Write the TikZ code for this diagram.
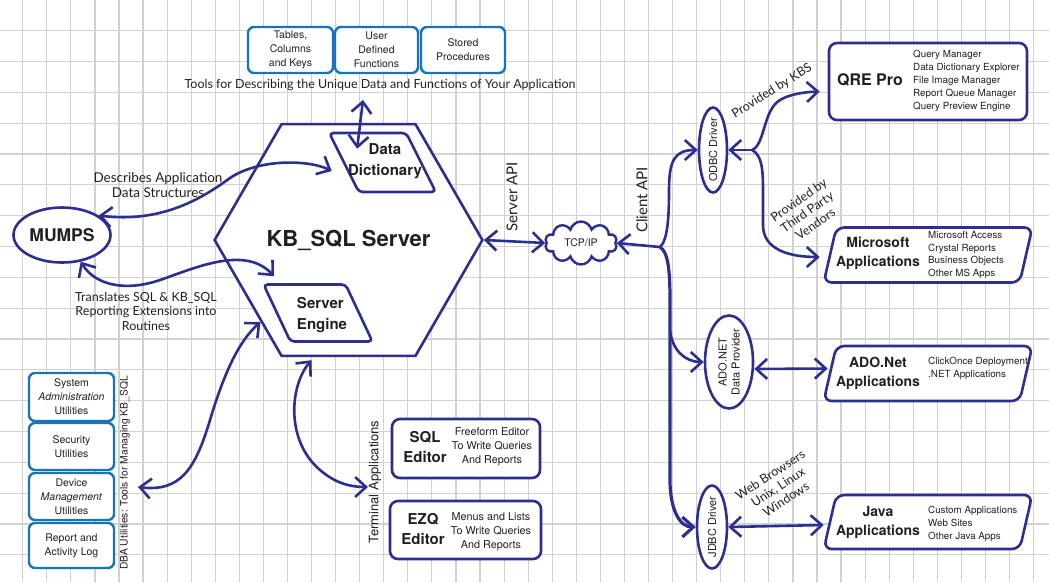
\documentclass[tikz,border=0pt]{standalone}
\usepackage{fontspec}
\setmainfont{TeX Gyre Heros}
\newfontfamily\handfont{Lato}
\usetikzlibrary{shapes.geometric, shapes.symbols, arrows.meta}

\definecolor{kbnavy}{RGB}{44,47,143}
\definecolor{kbblue}{RGB}{24,116,186}
\definecolor{kbtext}{RGB}{35,31,32}

\begin{document}
\begin{tikzpicture}[x = 1pt, y = -1pt, > = {Straight Barb[length = 11pt, width = 20pt]},
	gridline/.style = {line width = 1.2pt, black!18},
	link/.style = {draw = kbnavy, line width = 2.6pt, line cap = round, line join = round},
	bluebox/.style = {draw = kbblue, fill = white, line width = 2.4pt, rounded corners = 6pt, align = center, text = kbtext, inner sep = 0pt, font = \fontsize{10.5}{14}\selectfont},
	navybox/.style = {draw = kbnavy, fill = white, line width = 2.6pt, rounded corners = 8pt, inner sep = 0pt, text = kbtext},
	slantbox/.style = {navybox, xslant = 0.23, transform shape, minimum width = 196pt, minimum height = 55pt},
	shelfbox/.style = {navybox, rounded corners = 4pt, transform shape},
	drivernode/.style = {draw = kbnavy, fill = white, line width = 2.6pt, ellipse, inner sep = 0pt, text = kbtext},
	heading/.style = {text = kbtext, align = center, inner sep = 0pt, font = \bfseries\fontsize{14}{19}\selectfont},
	listtext/.style = {text = kbtext, align = left, anchor = west, inner sep = 0pt, font = \fontsize{9.8}{13}\selectfont},
	remarktext/.style = {text = kbtext, align = center, inner sep = 0pt, font = \handfont\fontsize{12.5}{14.5}\selectfont}
]

	\useasboundingbox (0, 0) rectangle (1049, 582);

	% Grid paper

	\foreach \i in {0, ..., 42}
		\draw [gridline] ({22.7 + 24.07 * \i}, 0) -- ({22.7 + 24.07 * \i}, 582);
	\foreach \j in {0, ..., 17}
		\draw [gridline] (0, {30.7 + 30.83 * \j}) -- (1049, {30.7 + 30.83 * \j});

	% Data description tools

	\node [bluebox, minimum width = 85pt, minimum height = 46pt] (tables) at (290.5, 50) {Tables,\\Columns\\and Keys};
	\node [bluebox, minimum width = 83pt, minimum height = 46pt] (udf) at (376.5, 50) {User\\Defined\\Functions};
	\node [bluebox, minimum width = 84pt, minimum height = 46pt] (stored) at (463, 50) {Stored\\Procedures};
	\node [remarktext] (tools) at (380, 85) {Tools for Describing the Unique Data and Functions of Your Application};

	% Server

	\node [draw = kbnavy, fill = white, line width = 2.6pt, regular polygon, regular polygon sides = 6, minimum size = 263pt, inner sep = 0pt, text = kbtext, font = \bfseries\fontsize{22}{22}\selectfont] (server) at (348.5, 240) {KB\_SQL Server};
	\node [shelfbox, xslant = -0.5, minimum width = 77pt, minimum height = 59pt] (dict) at (382.5, 162.5) {};
	\node [heading, font = \bfseries\fontsize{15}{21}\selectfont] (dictname) at (385, 161) {Data\\Dictionary};
	\node [shelfbox, xslant = -0.47, minimum width = 82pt, minimum height = 57pt] (engine) at (318, 313) {};
	\node [heading, align = left, font = \bfseries\fontsize{15}{21}\selectfont] (enginename) at (322, 315) {Server\\Engine};

	% MUMPS

	\node [drivernode, minimum width = 97pt, minimum height = 55pt, font = \bfseries\fontsize{17.5}{17.5}\selectfont] (mumps) at (62, 235) {MUMPS};
	\node [remarktext, font = \handfont\fontsize{13.5}{14.5}\selectfont] (describes) at (158, 185) {Describes Application\\Data Structures};
	\node [remarktext] (translates) at (146, 311) {Translates SQL \& KB\_SQL\\Reporting Extensions into\\Routines};

	% DBA utilities

	\node [bluebox, minimum width = 85pt, minimum height = 48pt] (sysadmin) at (71.5, 397) {System\\\textit{Administration}\\Utilities};
	\node [bluebox, minimum width = 85pt, minimum height = 47pt] (security) at (71.5, 446.5) {Security\\Utilities};
	\node [bluebox, minimum width = 85pt, minimum height = 47pt] (device) at (71.5, 496.5) {Device\\\textit{Management}\\Utilities};
	\node [bluebox, minimum width = 85pt, minimum height = 45pt] (report) at (71.5, 545.5) {Report and\\Activity Log};
	\node [rotate = 90, text = kbtext, inner sep = 0pt, font = \fontsize{10.3}{12}\selectfont] (dbalabel) at (125, 473) {DBA Utilities: Tools for Managing KB\_SQL};

	% Terminal applications

	\node [rotate = 90, text = kbtext, inner sep = 0pt, font = \fontsize{13}{14}\selectfont] (termlabel) at (375, 482) {Terminal Applications};
	\node [navybox, minimum width = 148pt, minimum height = 59pt] (sqlbox) at (466, 448.5) {};
	\node [heading, font = \bfseries\fontsize{15}{20}\selectfont] (sqlname) at (425, 447) {SQL\\Editor};
	\node [text = kbtext, align = center, inner sep = 0pt, font = \fontsize{10.8}{14}\selectfont] (sqllist) at (492, 447) {Freeform Editor\\To Write Queries\\And Reports};
	\node [navybox, minimum width = 151pt, minimum height = 58pt] (ezqbox) at (465.5, 530) {};
	\node [heading, font = \bfseries\fontsize{15}{20}\selectfont] (ezqname) at (423, 529) {EZQ\\Editor};
	\node [text = kbtext, align = center, inner sep = 0pt, font = \fontsize{10.8}{14}\selectfont] (ezqlist) at (491, 532) {Menus and Lists\\To Write Queries\\And Reports};

	% Network

	\node [cloud, cloud puffs = 10, aspect = 1.7, draw = kbnavy, fill = white, line width = 2.4pt, minimum width = 72pt, minimum height = 43pt, inner sep = 0pt, text = kbtext, font = \fontsize{10.5}{12}\selectfont] (tcp) at (581, 243) {TCP/IP};
	\node [remarktext, rotate = 90, font = \handfont\fontsize{15}{16}\selectfont] (serverapi) at (512, 197) {Server API};
	\node [remarktext, rotate = 90, font = \handfont\fontsize{15}{16}\selectfont] (clientapi) at (642, 200) {Client API};
	\coordinate (clientjoin) at (660, 247);
	\coordinate (adojoin) at (670, 330);

	% ODBC

	\node [drivernode, minimum width = 28pt, minimum height = 85pt] (odbc) at (713, 150) {};
	\node [rotate = 90, text = kbtext, inner sep = 0pt, font = \fontsize{11}{13}\selectfont] (odbcname) at (713, 150) {ODBC Driver};
	\coordinate (odbcjoin) at (752, 150);
	\node [remarktext, rotate = 32] (bykbs) at (772, 91) {Provided by KBS};
	\node [remarktext, rotate = 35] (bythird) at (807, 212) {Provided by\\Third Party\\Vendors};

	\node [navybox, minimum width = 198pt, minimum height = 77pt] (qre) at (928, 81.5) {};
	\node [heading, font = \bfseries\fontsize{16}{16}\selectfont] (qrename) at (870, 80) {QRE Pro};
	\node [listtext] (qrelist) at (913, 81) {Query Manager\\Data Dictionary Explorer\\File Image Manager\\Report Queue Manager\\Query Preview Engine};

	\node [slantbox] (msbox) at (928, 255) {};
	\node [heading] (msname) at (878, 253) {Microsoft\\Applications};
	\node [listtext, font = \fontsize{9.8}{12.5}\selectfont] (mslist) at (928, 255) {Microsoft Access\\Crystal Reports\\Business Objects\\Other MS Apps};

	% ADO.NET

	\node [drivernode, minimum width = 48pt, minimum height = 93pt] (ado) at (729, 362) {};
	\node [rotate = 90, text = kbtext, align = center, inner sep = 0pt, font = \fontsize{11}{13}\selectfont] (adoname) at (729, 362) {ADO.NET\\Data Provider};
	\node [slantbox] (adobox) at (928, 373.5) {};
	\node [heading] (adoappname) at (878, 373.5) {ADO.Net\\Applications};
	\node [listtext] (adolist) at (928, 368.5) {ClickOnce Deployment\\.NET Applications};

	% JDBC

	\node [drivernode, minimum width = 30pt, minimum height = 83pt] (jdbc) at (712, 527) {};
	\node [rotate = 90, text = kbtext, inner sep = 0pt, font = \fontsize{11}{13}\selectfont] (jdbcname) at (712, 527) {JDBC Driver};
	\node [remarktext, rotate = 33] (webnote) at (778, 487) {Web Browsers\\Unix, Linux\\Windows};
	\node [slantbox, minimum height = 54pt] (javabox) at (928, 522) {};
	\node [heading] (javaname) at (878, 522.5) {Java\\Applications};
	\node [listtext] (javalist) at (928, 523.5) {Custom Applications\\Web Sites\\Other Java Apps};

	% Connectors

	\draw [link, <->] ([xshift = -17pt, yshift = -9pt]tools.south) -- ([xshift = -10pt, yshift = -17pt]dict.north);
	\draw [link, <->] (mumps.28) .. controls (160, 223) and (200, 200) .. (230, 178) .. controls (260, 158) and (310, 160) .. ([xshift = -11pt, yshift = -8.5pt]dict.west);
	\draw [link, <->] (mumps.-55) .. controls (95, 285) and (125, 292) .. (160, 280) .. controls (195, 268) and (245, 245) .. ([xshift = -30pt, yshift = 7pt]engine.north);
	\draw [link, <->] ([xshift = 13pt, yshift = -14pt]dbalabel.center) .. controls (180, 492) and (195, 470) .. (210, 420) .. controls (225, 370) and (240, 340) .. (server.-137);
	\draw [link, <->] ([xshift = -37pt, yshift = -3pt]server.south) .. controls (290, 385) and (285, 440) .. (320, 470) .. controls (335, 483) and (350, 487) .. ([xshift = -7pt, yshift = -5pt]termlabel.center);
	\draw [link, <->] (server.east) -- (tcp.west);
	\draw [link, ->] (clientjoin) -- (tcp.east);
	\draw [link, ->] (clientjoin) .. controls (668, 240) and (669, 215) .. (669, 190) .. controls (669, 160) and (675, 150) .. (odbc.west);
	\draw [link, line width = 3.2pt, ->] (clientjoin) .. controls (668, 252) and (670, 270) .. (670, 300) -- (670, 480) .. controls (670, 510) and (680, 527) .. (jdbc.west);
	\draw [link, ->] (adojoin) .. controls (672, 350) and (685, 362) .. (ado.west);
	\draw [link, ->] (odbcjoin) -- (odbc.east);
	\draw [link, ->] (odbcjoin) .. controls (765, 145) and (763, 110) .. (780, 100) .. controls (790, 94) and (805, 92) .. ([xshift = -8pt, yshift = -10pt]qre.west);
	\draw [link, ->] (odbcjoin) .. controls (762, 155) and (763, 170) .. (763, 190) -- (763, 225) .. controls (763, 250) and (790, 257) .. ([xshift = -9pt, yshift = -2pt]msbox.west);
	\draw [link, <->] ([yshift = -7pt]ado.east) -- ([xshift = -1pt, yshift = 5pt]adobox.west);
	\draw [link, <->] (jdbc.east) -- ([xshift = -5pt, yshift = -3pt]javabox.west);

\end{tikzpicture}
\end{document}
